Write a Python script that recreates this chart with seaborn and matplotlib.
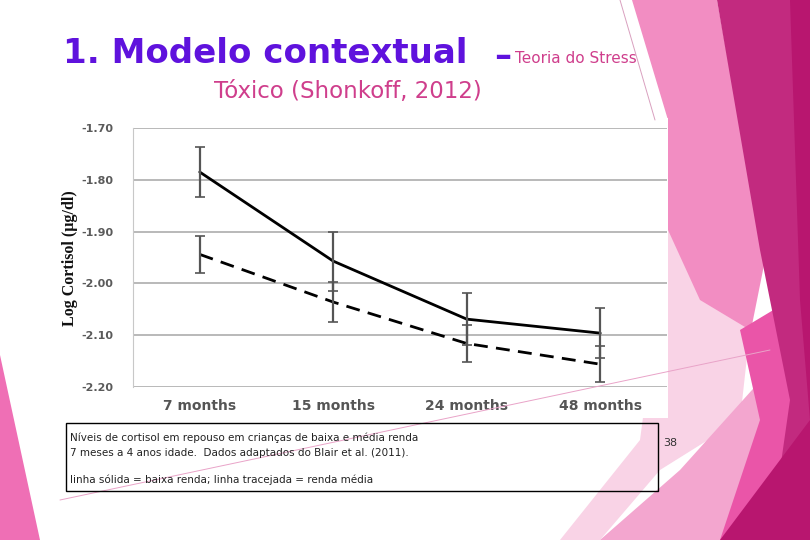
"""
plot.py
-------
Slide recreation: log cortisol by age, low vs middle income (Blair et al., 2011).
"""

import pandas as pd
import matplotlib.pyplot as plt
import seaborn as sns
from matplotlib.patches import Polygon, Rectangle

# ========== 1. Data ==========
months = ["7 months", "15 months", "24 months", "48 months"]
low_income = [-1.785, -1.957, -2.069, -2.096]
low_err = [0.048, 0.057, 0.050, 0.048]
mid_income = [-1.944, -2.036, -2.116, -2.156]
mid_err = [0.035, 0.039, 0.035, 0.035]
y_ticks = [-2.20, -2.10, -2.00, -1.90, -1.80, -1.70]

df = pd.DataFrame({
    "month": months * 2,
    "cortisol": low_income + mid_income,
    "group": ["baixa"] * 4 + ["media"] * 4,
})

# ========== 2. Figure / slide background ==========
sns.set_style("white")
plt.rcParams["font.family"] = ["DejaVu Sans"]

W, H = 810, 540
fig = plt.figure(figsize=(8.1, 5.4), dpi=100)


def px(points):
    # slide pixel coords (y down) -> figure fraction
    return [(x / W, 1 - y / H) for x, y in points]


def shape(points, color, z=0):
    fig.patches.append(Polygon(px(points), closed=True, facecolor=color,
                               edgecolor="none", transform=fig.transFigure,
                               zorder=z, figure=fig))


# decorative pink shapes on the right and bottom-left
shape([(632, 0), (717, 0), (765, 260), (745, 360), (700, 430), (668, 420), (668, 120)], "#f28dc2")
shape([(668, 230), (700, 300), (750, 330), (740, 420), (660, 470), (600, 540), (560, 540), (640, 440)], "#f9d3e6")
shape([(600, 540), (680, 470), (770, 370), (790, 540)], "#f3a6cf")
shape([(740, 330), (790, 300), (800, 420), (760, 540), (720, 540), (760, 420)], "#ea55a8")
shape([(717, 0), (810, 0), (810, 540), (770, 540), (790, 400), (760, 250)], "#c22a7f")
shape([(790, 0), (810, 0), (810, 540), (720, 540), (810, 420), (800, 300)], "#b8166f")
shape([(0, 355), (40, 540), (0, 540)], "#ef6fb5")
fig.lines.append(plt.Line2D([60 / W, 770 / W], [1 - 500 / H, 1 - 350 / H],
                            transform=fig.transFigure, color="#e9a3c8", lw=0.7))
fig.lines.append(plt.Line2D([620 / W, 655 / W], [1, 1 - 120 / H],
                            transform=fig.transFigure, color="#d9a0bf", lw=0.7))

# white chart picture area
fig.patches.append(Rectangle((62 / W, 1 - 418 / H), 606 / W, 300 / H,
                             facecolor="white", edgecolor="none",
                             transform=fig.transFigure, zorder=1, figure=fig))

# ========== 3. Chart ==========
ax = fig.add_axes([133 / W, 1 - 387 / H, 534 / W, 259 / H])
ax.set_zorder(2)

sns.lineplot(data=df, x="month", y="cortisol", style="group",
             dashes={"baixa": "", "media": (5, 3)}, color="black",
             linewidth=2.0, legend=False, ax=ax, sort=False)

ax.errorbar(months, low_income, yerr=low_err, fmt="none", ecolor="#555555",
            elinewidth=1.6, capsize=3.5, capthick=1.2, zorder=3)
ax.errorbar(months, mid_income, yerr=mid_err, fmt="none", ecolor="#555555",
            elinewidth=1.6, capsize=3.5, capthick=1.2, zorder=3)

ax.set_xlim(-0.5, 3.5)
ax.set_ylim(-2.20, -1.70)
ax.set_yticks(y_ticks)
ax.set_yticklabels([f"{v:.2f}" for v in y_ticks])
ax.yaxis.grid(True, color="#b3b3b3", linewidth=1.3)
ax.set_axisbelow(True)
for side in ["top", "right", "bottom"]:
    ax.spines[side].set_visible(False)
ax.spines["left"].set_color("#c8c8c8")
ax.tick_params(axis="y", length=0, pad=14, labelsize=8, labelcolor="#5a5a5a")
ax.tick_params(axis="x", length=0, pad=9, labelsize=10, labelcolor="#555555")
for lab in ax.get_xticklabels() + ax.get_yticklabels():
    lab.set_fontweight("bold")
ax.set_xlabel("")
ax.set_ylabel("")

fig.text(70 / W, 1 - 258 / H, "Log Cortisol (µg/dl)", rotation=90,
         ha="center", va="center", fontsize=11.5, fontweight="bold",
         family=["Liberation Serif", "DejaVu Serif"], color="#111111")

# ========== 4. Titles and caption ==========
fig.text(63 / W, 1 - 63 / H, "1. Modelo contextual",
         fontsize=24.5, fontweight="bold", color="#5f12dd",
         ha="left", va="baseline")
fig.text(494 / W, 1 - 66 / H, "\u2013", fontsize=24.5, fontweight="bold",
         color="#5f12dd", ha="left", va="baseline")
fig.text(515 / W, 1 - 63 / H, "Teoria do Stress", fontsize=11,
         color="#cf3e8c", ha="left", va="baseline")
fig.text(348 / W, 1 - 98 / H, "Tóxico (Shonkoff, 2012)", fontsize=16.5,
         color="#cf3e8c", ha="center", va="baseline")

fig.patches.append(Rectangle((66 / W, 1 - 491 / H), 592 / W, 68 / H,
                             facecolor="none", edgecolor="black", lw=1.0,
                             transform=fig.transFigure, zorder=3, figure=fig))
cap_kw = dict(fontsize=7.5, color="#222222", ha="left", va="baseline")
fig.text(70 / W, 1 - 441 / H,
         "Níveis de cortisol em repouso em crianças de baixa e média renda", **cap_kw)
fig.text(70 / W, 1 - 456 / H,
         "7 meses a 4 anos idade.  Dados adaptados do Blair et al. (2011).", **cap_kw)
fig.text(70 / W, 1 - 483 / H,
         "linha sólida = baixa renda; linha tracejada = renda média", **cap_kw)
fig.text(663 / W, 1 - 446 / H, "38", fontsize=8, color="#333333",
         ha="left", va="baseline")

plt.savefig("out.png", dpi=100)
print("Saved out.png")
